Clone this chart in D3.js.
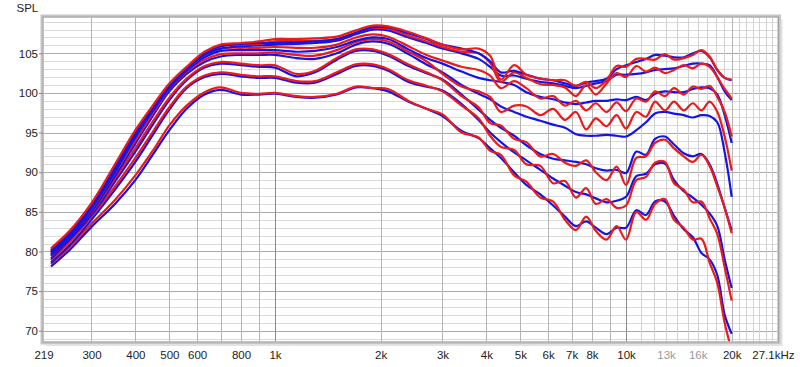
<!DOCTYPE html>
<html>
<head>
<meta charset="utf-8">
<script src="https://cdn.jsdelivr.net/npm/d3@7"></script>
<style>
  body { margin: 0; background: #ffffff; }
  text { font-family: "Liberation Sans", Arial, sans-serif; font-size: 11.5px; fill: #222222; }
</style>
</head>
<body>
<svg id="chart" width="800" height="367"></svg>
<script>

// Frequencies (Hz) at which every curve is sampled
var freqs = [230, 260, 300, 350, 400, 450, 500, 560, 630, 700,
             800, 900, 1000, 1150, 1300, 1500, 1700, 1900, 2100, 2400,
             2700, 3000, 3400, 3800, 4100, 4400, 4800, 5200, 5700, 6200,
             6700, 7200, 7700, 8200, 8800, 9400, 10000, 10700, 11400, 12100,
             12900, 13700, 14600, 15500, 16400, 17300, 18200, 19100, 20000];

// SPL values (dB), one blue and one red curve per angle
var blueA = [80.1, 82.4, 85.8, 90.6, 95.0, 98.3, 101.0, 103.2, 105.0, 105.9,
             106.2, 106.3, 106.3, 106.4, 106.5, 106.8, 107.6, 108.3, 108.3, 107.5,
             106.8, 106.1, 105.6, 105.0, 104.0, 102.6, 102.8, 102.3, 101.8, 101.6,
             101.2, 100.9, 101.3, 101.5, 101.8, 103.0, 103.5, 103.9, 104.3, 104.8,
             104.7, 104.5, 104.5, 105.0, 105.3, 104.5, 102.9, 101.9, 101.6];
var redA  = [80.4, 82.6, 86.1, 91.0, 95.3, 98.5, 101.2, 103.3, 105.2, 106.1,
             106.3, 106.5, 106.8, 106.8, 106.9, 107.1, 107.9, 108.5, 108.4, 107.7,
             106.9, 106.1, 105.5, 105.6, 104.7, 101.7, 103.5, 102.3, 101.8, 101.6,
             101.6, 100.9, 101.4, 100.6, 101.6, 103.4, 103.3, 104.3, 104.3, 104.2,
             104.9, 104.2, 104.4, 104.8, 105.4, 104.6, 102.9, 101.9, 101.7];
var blueB = [79.9, 82.1, 85.6, 90.3, 94.7, 98.1, 100.8, 103.0, 104.8, 105.6,
             105.9, 106.0, 106.1, 106.2, 106.3, 106.6, 107.4, 108.0, 107.9, 107.0,
             106.3, 105.6, 105.0, 104.3, 103.3, 102.2, 102.2, 101.8, 101.4, 101.2,
             100.9, 100.6, 100.9, 101.2, 101.5, 102.3, 102.3, 102.4, 102.6, 102.9,
             103.0, 103.1, 103.4, 103.7, 103.7, 103.5, 102.0, 100.2, 99.1];
var redB  = [80.2, 82.5, 86.0, 90.8, 95.1, 98.4, 101.1, 103.2, 105.1, 105.9,
             106.1, 106.2, 106.5, 106.6, 106.6, 106.8, 107.6, 108.2, 108.1, 107.2,
             106.5, 105.8, 105.2, 105.0, 103.8, 101.4, 102.6, 101.9, 101.1, 101.0,
             100.7, 99.6, 101.0, 99.8, 101.2, 102.5, 102.0, 103.4, 102.7, 103.2,
             102.5, 102.9, 103.5, 103.1, 103.7, 103.3, 102.0, 100.5, 99.3];
var blueC = [79.7, 81.9, 85.4, 90.0, 94.4, 97.8, 100.6, 102.8, 104.5, 105.3,
             105.4, 105.4, 105.4, 105.2, 105.3, 105.8, 106.6, 107.0, 106.8, 105.5,
             104.4, 103.7, 102.7, 101.9, 101.6, 101.4, 101.0, 100.1, 99.5, 99.2,
             98.8, 98.6, 98.8, 99.0, 99.0, 99.2, 99.1, 99.5, 99.1, 99.9,
             100.2, 100.1, 100.1, 100.5, 100.7, 100.6, 99.8, 97.2, 93.7];
var redC  = [80.0, 82.2, 85.7, 90.4, 94.8, 98.1, 100.9, 103.0, 104.8, 105.6,
             105.7, 105.7, 105.8, 105.7, 105.7, 106.1, 107.0, 107.4, 107.1, 105.9,
             104.8, 104.1, 103.3, 102.9, 102.2, 100.6, 101.5, 100.6, 99.3, 99.6,
             98.4, 99.0, 97.8, 98.7, 97.6, 98.8, 97.7, 99.3, 98.9, 100.2,
             99.6, 100.6, 99.8, 100.8, 100.5, 100.9, 99.5, 97.6, 94.5];
var blueD = [79.5, 81.7, 85.0, 89.5, 93.6, 97.2, 100.2, 102.4, 103.9, 104.6,
             104.8, 104.8, 104.8, 104.4, 104.3, 105.0, 106.1, 106.5, 106.2, 104.9,
             103.6, 102.6, 101.0, 99.9, 99.2, 98.3, 97.6, 97.0, 96.5, 96.0,
             95.6, 94.8, 94.6, 94.6, 94.7, 94.6, 94.5, 95.3, 96.3, 97.4,
             97.6, 97.4, 97.2, 96.9, 97.2, 97.1, 96.3, 92.5, 86.9];
var redD  = [79.7, 82.0, 85.3, 89.9, 94.0, 97.5, 100.5, 102.7, 104.2, 104.9,
             105.0, 105.0, 105.1, 104.8, 104.7, 105.4, 106.4, 106.8, 106.5, 105.2,
             104.0, 102.4, 100.8, 100.2, 99.5, 97.6, 98.4, 98.3, 97.2, 98.0,
             96.6, 97.6, 95.4, 96.8, 95.8, 97.2, 95.5, 97.6, 97.0, 98.9,
             97.8, 98.9, 97.8, 98.7, 97.8, 98.9, 97.6, 94.5, 90.2];
var blueE = [79.1, 81.5, 84.6, 88.8, 92.6, 96.1, 99.1, 101.6, 103.2, 103.7,
             103.5, 103.3, 103.2, 102.1, 102.6, 104.2, 105.3, 105.3, 104.7, 103.4,
             102.5, 101.7, 99.8, 97.9, 96.6, 95.6, 94.6, 93.4, 92.3, 91.7,
             91.5, 91.3, 91.0, 90.5, 90.2, 90.3, 89.9, 92.6, 92.2, 94.2,
             94.5, 93.5, 92.4, 92.0, 92.3, 91.0, 88.5, 85.5, 82.7];
var redE  = [79.4, 81.8, 84.9, 89.2, 93.0, 96.5, 99.4, 101.8, 103.4, 103.9,
             103.7, 103.5, 103.5, 102.4, 102.8, 104.4, 105.5, 105.5, 104.9, 103.6,
             102.6, 101.6, 99.6, 98.2, 96.2, 95.9, 94.2, 93.8, 92.0, 92.3,
             91.2, 90.8, 91.5, 90.0, 89.0, 90.7, 88.4, 91.8, 92.0, 93.7,
             94.1, 93.0, 92.0, 91.3, 92.2, 90.8, 88.2, 85.5, 82.3];
var blueF = [78.6, 80.8, 84.0, 87.8, 91.3, 94.8, 97.9, 100.6, 102.0, 102.4,
             102.1, 101.9, 101.9, 101.3, 101.3, 102.4, 103.4, 103.4, 102.8, 101.4,
             100.8, 100.3, 98.6, 96.6, 95.0, 93.8, 92.5, 91.5, 90.3, 89.2,
             88.3, 87.5, 87.2, 86.7, 86.2, 86.4, 86.9, 89.5, 89.8, 91.0,
             91.1, 89.0, 87.6, 86.8, 85.9, 84.8, 83.2, 79.0, 75.4];
var redF  = [78.9, 81.2, 84.4, 88.2, 91.8, 95.2, 98.2, 100.8, 102.2, 102.6,
             102.3, 102.1, 102.1, 101.5, 101.5, 102.6, 103.6, 103.6, 103.0, 101.6,
             100.9, 100.2, 98.4, 96.8, 94.6, 93.2, 92.8, 91.0, 90.8, 88.6,
             88.9, 86.8, 88.0, 86.0, 86.6, 85.5, 85.8, 89.0, 89.4, 91.2,
             91.3, 88.6, 87.8, 86.2, 86.3, 84.2, 82.2, 78.0, 73.8];
var blueG = [78.1, 80.2, 83.1, 86.0, 89.0, 92.3, 95.3, 98.0, 99.8, 100.4,
             99.8, 99.8, 99.9, 99.5, 99.4, 99.8, 100.7, 100.6, 100.2, 98.9,
             98.0, 97.1, 95.2, 94.3, 93.0, 91.8, 90.0, 88.4, 87.2, 85.8,
             84.4, 83.2, 83.8, 83.0, 82.2, 83.0, 83.0, 85.2, 84.6, 86.3,
             86.3, 84.5, 82.8, 81.8, 79.8, 79.0, 77.0, 72.0, 69.6];
var redG  = [78.4, 80.6, 83.5, 86.5, 89.6, 92.8, 95.9, 98.4, 100.1, 100.7,
             100.0, 99.9, 100.0, 99.6, 99.5, 99.9, 100.8, 100.6, 100.5, 99.0,
             98.0, 97.3, 95.0, 94.4, 92.7, 92.2, 89.6, 88.8, 86.8, 86.3,
             84.0, 82.7, 84.4, 82.6, 81.5, 83.2, 81.5, 85.0, 84.0, 86.0,
             86.6, 84.0, 83.0, 81.5, 81.6, 78.6, 76.0, 71.0, 67.5];

// Axis ticks and labels
var yTicks = [70, 75, 80, 85, 90, 95, 100, 105];
var xTickValues = [219, 300, 400, 500, 600, 800, 1000, 2000, 3000, 4000,
                   5000, 6000, 7000, 8000, 10000, 13000, 16000, 20000, 27100];
var xTickLabels = ["219", "300", "400", "500", "600", "800", "1k", "2k", "3k", "4k",
                   "5k", "6k", "7k", "8k", "10k", "13k", "16k", "20k", "27.1kHz"];
var greyLabels = ["13k", "16k"];

// Plot area and settings
var plot = {left: 43.5, right: 778, top: 17.5, bottom: 341.5};
var blueColor = "#1414e6";
var redColor = "#ec1a1a";

var svg = d3.select("#chart");

// Scales
var x = d3.scaleLog()
      .domain([219, 27100])
      .range([plot.left, plot.right]);

var y = d3.scaleLinear()
      .domain([68.64, 109.52])
      .range([plot.bottom, plot.top]);

// Horizontal grid, every dB, darker every 5 dB
svg.append("g")
  .selectAll("line")
  .data(d3.range(69, 110))
  .enter()
  .append("line")
    .attr("x1", plot.left)
    .attr("x2", plot.right)
    .attr("y1", function(d) { return Math.round(y(d)) + 0.5; })
    .attr("y2", function(d) { return Math.round(y(d)) + 0.5; })
    .style("stroke", function(d) { return d % 5 === 0 ? "#ababab" : "#dadada"; })
    .style("stroke-width", 1);

// Vertical grid lines
var gridFreqs = d3.range(300, 1000, 100)
      .concat(d3.range(1000, 10000, 1000))
      .concat(d3.range(10000, 27001, 1000));

svg.append("g")
  .selectAll("line")
  .data(gridFreqs)
  .enter()
  .append("line")
    .attr("x1", function(d) { return Math.round(x(d)) + 0.5; })
    .attr("x2", function(d) { return Math.round(x(d)) + 0.5; })
    .attr("y1", plot.top)
    .attr("y2", plot.bottom)
    .style("stroke", function(d) {
        if (d === 1000 || d === 10000) return "#8a8a8a";
        if (d > 10000 && d !== 20000) return "#d2d2d2";
        return "#b4b4b4";
    })
    .style("stroke-width", 1);

// Clip the curves to the plot area
svg.append("clipPath")
    .attr("id", "plotClip")
  .append("rect")
    .attr("x", plot.left)
    .attr("y", plot.top)
    .attr("width", plot.right - plot.left)
    .attr("height", plot.bottom - plot.top);

var line = d3.line()
      .x(function(d, i) { return x(freqs[i]); })
      .y(function(d) { return y(d); })
      .curve(d3.curveCatmullRom.alpha(0.5));

var series = [
    {color: blueColor, values: blueG}, {color: redColor, values: redG},
    {color: blueColor, values: blueF}, {color: redColor, values: redF},
    {color: blueColor, values: blueE}, {color: redColor, values: redE},
    {color: blueColor, values: blueD}, {color: redColor, values: redD},
    {color: blueColor, values: blueC}, {color: redColor, values: redC},
    {color: blueColor, values: blueB}, {color: redColor, values: redB},
    {color: blueColor, values: blueA}, {color: redColor, values: redA}
];

svg.append("g")
    .attr("clip-path", "url(#plotClip)")
  .selectAll("path")
  .data(series)
  .enter()
  .append("path")
    .attr("d", function(d) { return line(d.values); })
    .style("fill", "none")
    .style("stroke", function(d) { return d.color; })
    .style("stroke-width", 2.2)
    .style("stroke-linejoin", "round");

// Frame with a soft shadow
svg.append("rect")
    .attr("x", plot.left - 1.5)
    .attr("y", plot.top - 1.5)
    .attr("width", plot.right - plot.left + 3)
    .attr("height", plot.bottom - plot.top + 3)
    .style("fill", "none")
    .style("stroke", "#c6c6c6")
    .style("stroke-width", 3);

svg.append("rect")
    .attr("x", plot.left - 0.5)
    .attr("y", plot.top - 0.5)
    .attr("width", plot.right - plot.left + 1)
    .attr("height", plot.bottom - plot.top + 1)
    .style("fill", "none")
    .style("stroke", "#a2a2a2")
    .style("stroke-width", 1);

svg.append("path")
    .attr("d", "M" + (plot.right + 3.5) + "," + (plot.top + 2) +
               "V" + (plot.bottom + 3.5) + "H" + (plot.left + 2))
    .style("fill", "none")
    .style("stroke", "#e2e2e2")
    .style("stroke-width", 2);

// Y axis
var yAxis = svg.append("g")
    .attr("transform", "translate(" + (plot.left - 0.5) + ",0)")
    .call(d3.axisLeft(y).tickValues(yTicks).tickSize(4).tickPadding(1));

yAxis.select(".domain").remove();
yAxis.selectAll("line").style("stroke", "#8a8a8a");
yAxis.selectAll("text")
    .attr("font-family", null)
    .attr("font-size", null);

// X axis
var xAxis = svg.append("g")
    .attr("transform", "translate(0," + plot.bottom + ")")
    .call(d3.axisBottom(x)
      .tickValues(xTickValues)
      .tickSize(0)
      .tickPadding(9.6)
      .tickFormat(function(d, i) { return xTickLabels[i]; }));

xAxis.select(".domain").remove();
xAxis.selectAll("text")
    .attr("font-family", null)
    .attr("font-size", null)
    .style("fill", function(d, i) {
        return greyLabels.indexOf(xTickLabels[i]) >= 0 ? "#9a9a9a" : "#222222";
    });

// Last label is right aligned against the edge
xAxis.selectAll("text")
  .filter(function(d) { return d === 27100; })
    .attr("text-anchor", "end")
    .attr("x", 16);

// Axis title
svg.append("text")
    .attr("x", 16.5)
    .attr("y", 12)
    .text("SPL");

</script>
</body>
</html>
